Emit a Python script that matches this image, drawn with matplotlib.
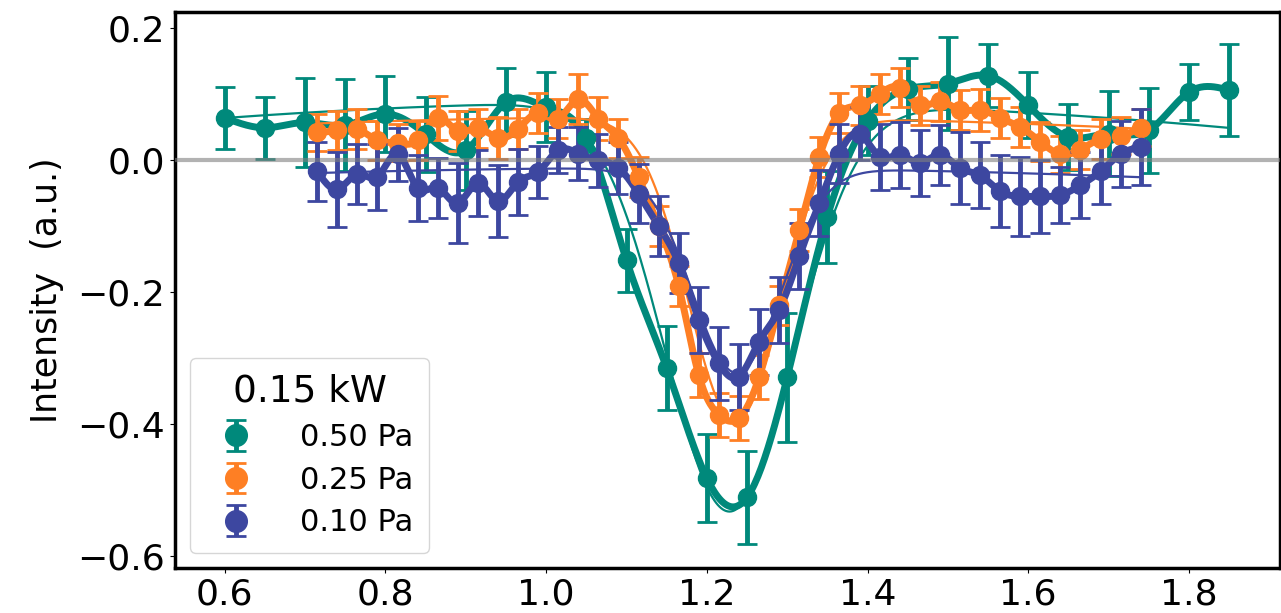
import numpy as np
import matplotlib
matplotlib.use("Agg")
import matplotlib.pyplot as plt

# Intensity profiles at 0.15 kW for three pressures
x_050 = [0.60, 0.65, 0.70, 0.75, 0.80, 0.85, 0.90, 0.95, 1.00, 1.05, 1.10, 1.15, 1.20,
         1.25, 1.30, 1.35, 1.40, 1.45, 1.50, 1.55, 1.60, 1.65, 1.70, 1.75, 1.80, 1.85]
y_050 = [0.064, 0.049, 0.057, 0.053, 0.070, 0.039, 0.015, 0.088, 0.080, 0.033, -0.152, -0.315, -0.482,
         -0.511, -0.329, -0.086, 0.060, 0.108, 0.116, 0.128, 0.083, 0.035, 0.040, 0.045, 0.103, 0.106]
e_050 = [0.047, 0.047, 0.067, 0.070, 0.058, 0.057, 0.060, 0.052, 0.053, 0.030, 0.048, 0.064, 0.067,
         0.070, 0.098, 0.070, 0.053, 0.047, 0.070, 0.048, 0.050, 0.050, 0.064, 0.065, 0.042, 0.070]

x_fine = [0.715, 0.740, 0.765, 0.790, 0.815, 0.840, 0.865, 0.890, 0.915, 0.940, 0.965, 0.990, 1.015, 1.040,
          1.065, 1.090, 1.115, 1.140, 1.165, 1.190, 1.215, 1.240, 1.265, 1.290, 1.315, 1.340, 1.365, 1.390,
          1.415, 1.440, 1.465, 1.490, 1.515, 1.540, 1.565, 1.590, 1.615, 1.640, 1.665, 1.690, 1.715, 1.740]

y_025 = [0.042, 0.045, 0.047, 0.030, 0.026, 0.030, 0.064, 0.044, 0.048, 0.034, 0.047, 0.071, 0.063, 0.092,
         0.063, 0.033, -0.026, -0.100, -0.191, -0.326, -0.386, -0.391, -0.329, -0.220, -0.106, 0.005, 0.071, 0.083,
         0.100, 0.110, 0.083, 0.089, 0.076, 0.076, 0.064, 0.050, 0.028, 0.009, 0.016, 0.032, 0.037, 0.049]
e_025 = [0.028, 0.030, 0.030, 0.030, 0.028, 0.030, 0.033, 0.030, 0.030, 0.032, 0.030, 0.030, 0.030, 0.038,
         0.032, 0.030, 0.030, 0.030, 0.030, 0.033, 0.033, 0.033, 0.033, 0.030, 0.032, 0.030, 0.030, 0.030,
         0.030, 0.030, 0.030, 0.030, 0.030, 0.032, 0.030, 0.030, 0.030, 0.028, 0.030, 0.030, 0.028, 0.028]

y_010 = [-0.017, -0.044, -0.021, -0.025, 0.009, -0.042, -0.042, -0.065, -0.035, -0.062, -0.033, -0.018, 0.015, 0.010,
         0.000, -0.012, -0.051, -0.100, -0.156, -0.242, -0.308, -0.328, -0.275, -0.227, -0.146, -0.065, 0.010, 0.040,
         0.005, 0.008, -0.004, 0.008, -0.012, -0.023, -0.047, -0.055, -0.055, -0.053, -0.038, -0.017, 0.009, 0.020]
e_010 = [0.045, 0.057, 0.045, 0.050, 0.040, 0.050, 0.045, 0.060, 0.050, 0.055, 0.050, 0.040, 0.035, 0.040,
         0.040, 0.040, 0.045, 0.045, 0.045, 0.050, 0.055, 0.050, 0.050, 0.050, 0.050, 0.050, 0.045, 0.040,
         0.050, 0.050, 0.050, 0.045, 0.055, 0.050, 0.055, 0.060, 0.055, 0.042, 0.050, 0.050, 0.050, 0.057]

labels = ["0.50 Pa", "0.25 Pa", "0.10 Pa"]
colors = ["#00897b", "#fe7f24", "#3d47a0"]

# gaussian dip on a quadratic baseline: (center, sigma, amplitude, base, curvature)
fit_050 = (1.228, 0.080, 0.62, 0.088, -0.08)
fit_025 = (1.235, 0.058, 0.46, 0.065, -0.05)
fit_010 = (1.237, 0.055, 0.31, -0.012, -0.04)


def natural_spline(x, y, xs):
    x = np.asarray(x, float)
    y = np.asarray(y, float)
    n = len(x)
    h = np.diff(x)
    A = np.zeros((n, n))
    r = np.zeros(n)
    A[0, 0] = A[-1, -1] = 1
    for i in range(1, n - 1):
        A[i, i - 1] = h[i - 1]
        A[i, i] = 2 * (h[i - 1] + h[i])
        A[i, i + 1] = h[i]
        r[i] = 3 * ((y[i + 1] - y[i]) / h[i] - (y[i] - y[i - 1]) / h[i - 1])
    c = np.linalg.solve(A, r)
    b = (y[1:] - y[:-1]) / h - h * (2 * c[:-1] + c[1:]) / 3
    d = (c[1:] - c[:-1]) / (3 * h)
    idx = np.clip(np.searchsorted(x, xs) - 1, 0, n - 2)
    dx = xs - x[idx]
    return y[idx] + b[idx] * dx + c[idx] * dx ** 2 + d[idx] * dx ** 3


def gauss_dip(xs, p):
    x0, sig, amp, base, curv = p
    return base + curv * (xs - 1.15) ** 2 - amp * np.exp(-(xs - x0) ** 2 / (2 * sig ** 2))


fig = plt.figure(figsize=(12.81, 6.13), dpi=100)
ax = fig.add_axes([0.1366, 0.0734, 0.8624, 0.9066])

series = [(x_050, y_050, e_050, fit_050),
          (x_fine, y_025, e_025, fit_025),
          (x_fine, y_010, e_010, fit_010)]

for (xs, ys, es, fit), lab, col in zip(series, labels, colors):
    ax.errorbar(xs, ys, yerr=es, fmt="o", color=col, ms=13, elinewidth=3.5,
                capsize=7, capthick=2, label=lab)
    xx = np.linspace(xs[0], xs[-1], 600)
    ax.plot(xx, natural_spline(xs, ys, xx), color=col, lw=5)
    ax.plot(xx, gauss_dip(xx, fit), color=col, lw=1.6)

ax.axhline(0, color="gray", lw=3, alpha=0.6, zorder=5)

ax.set_xlim(0.538, 1.913)
ax.set_ylim(-0.618, 0.224)
ax.set_yticks([-0.6, -0.4, -0.2, 0.0, 0.2])
ax.set_xticks([0.6, 0.8, 1.0, 1.2, 1.4, 1.6, 1.8])
ax.tick_params(labelsize=26)
for s in ax.spines.values():
    s.set_linewidth(2.5)
ax.set_ylabel("Intensity  (a.u.)", fontsize=25, labelpad=10)

leg = ax.legend(title="0.15 kW", loc="lower left", fontsize=22, title_fontsize=27,
                handletextpad=1.1, labelspacing=0.45, markerscale=1.2, borderpad=0.5)

fig.savefig("out.png", dpi=100)
